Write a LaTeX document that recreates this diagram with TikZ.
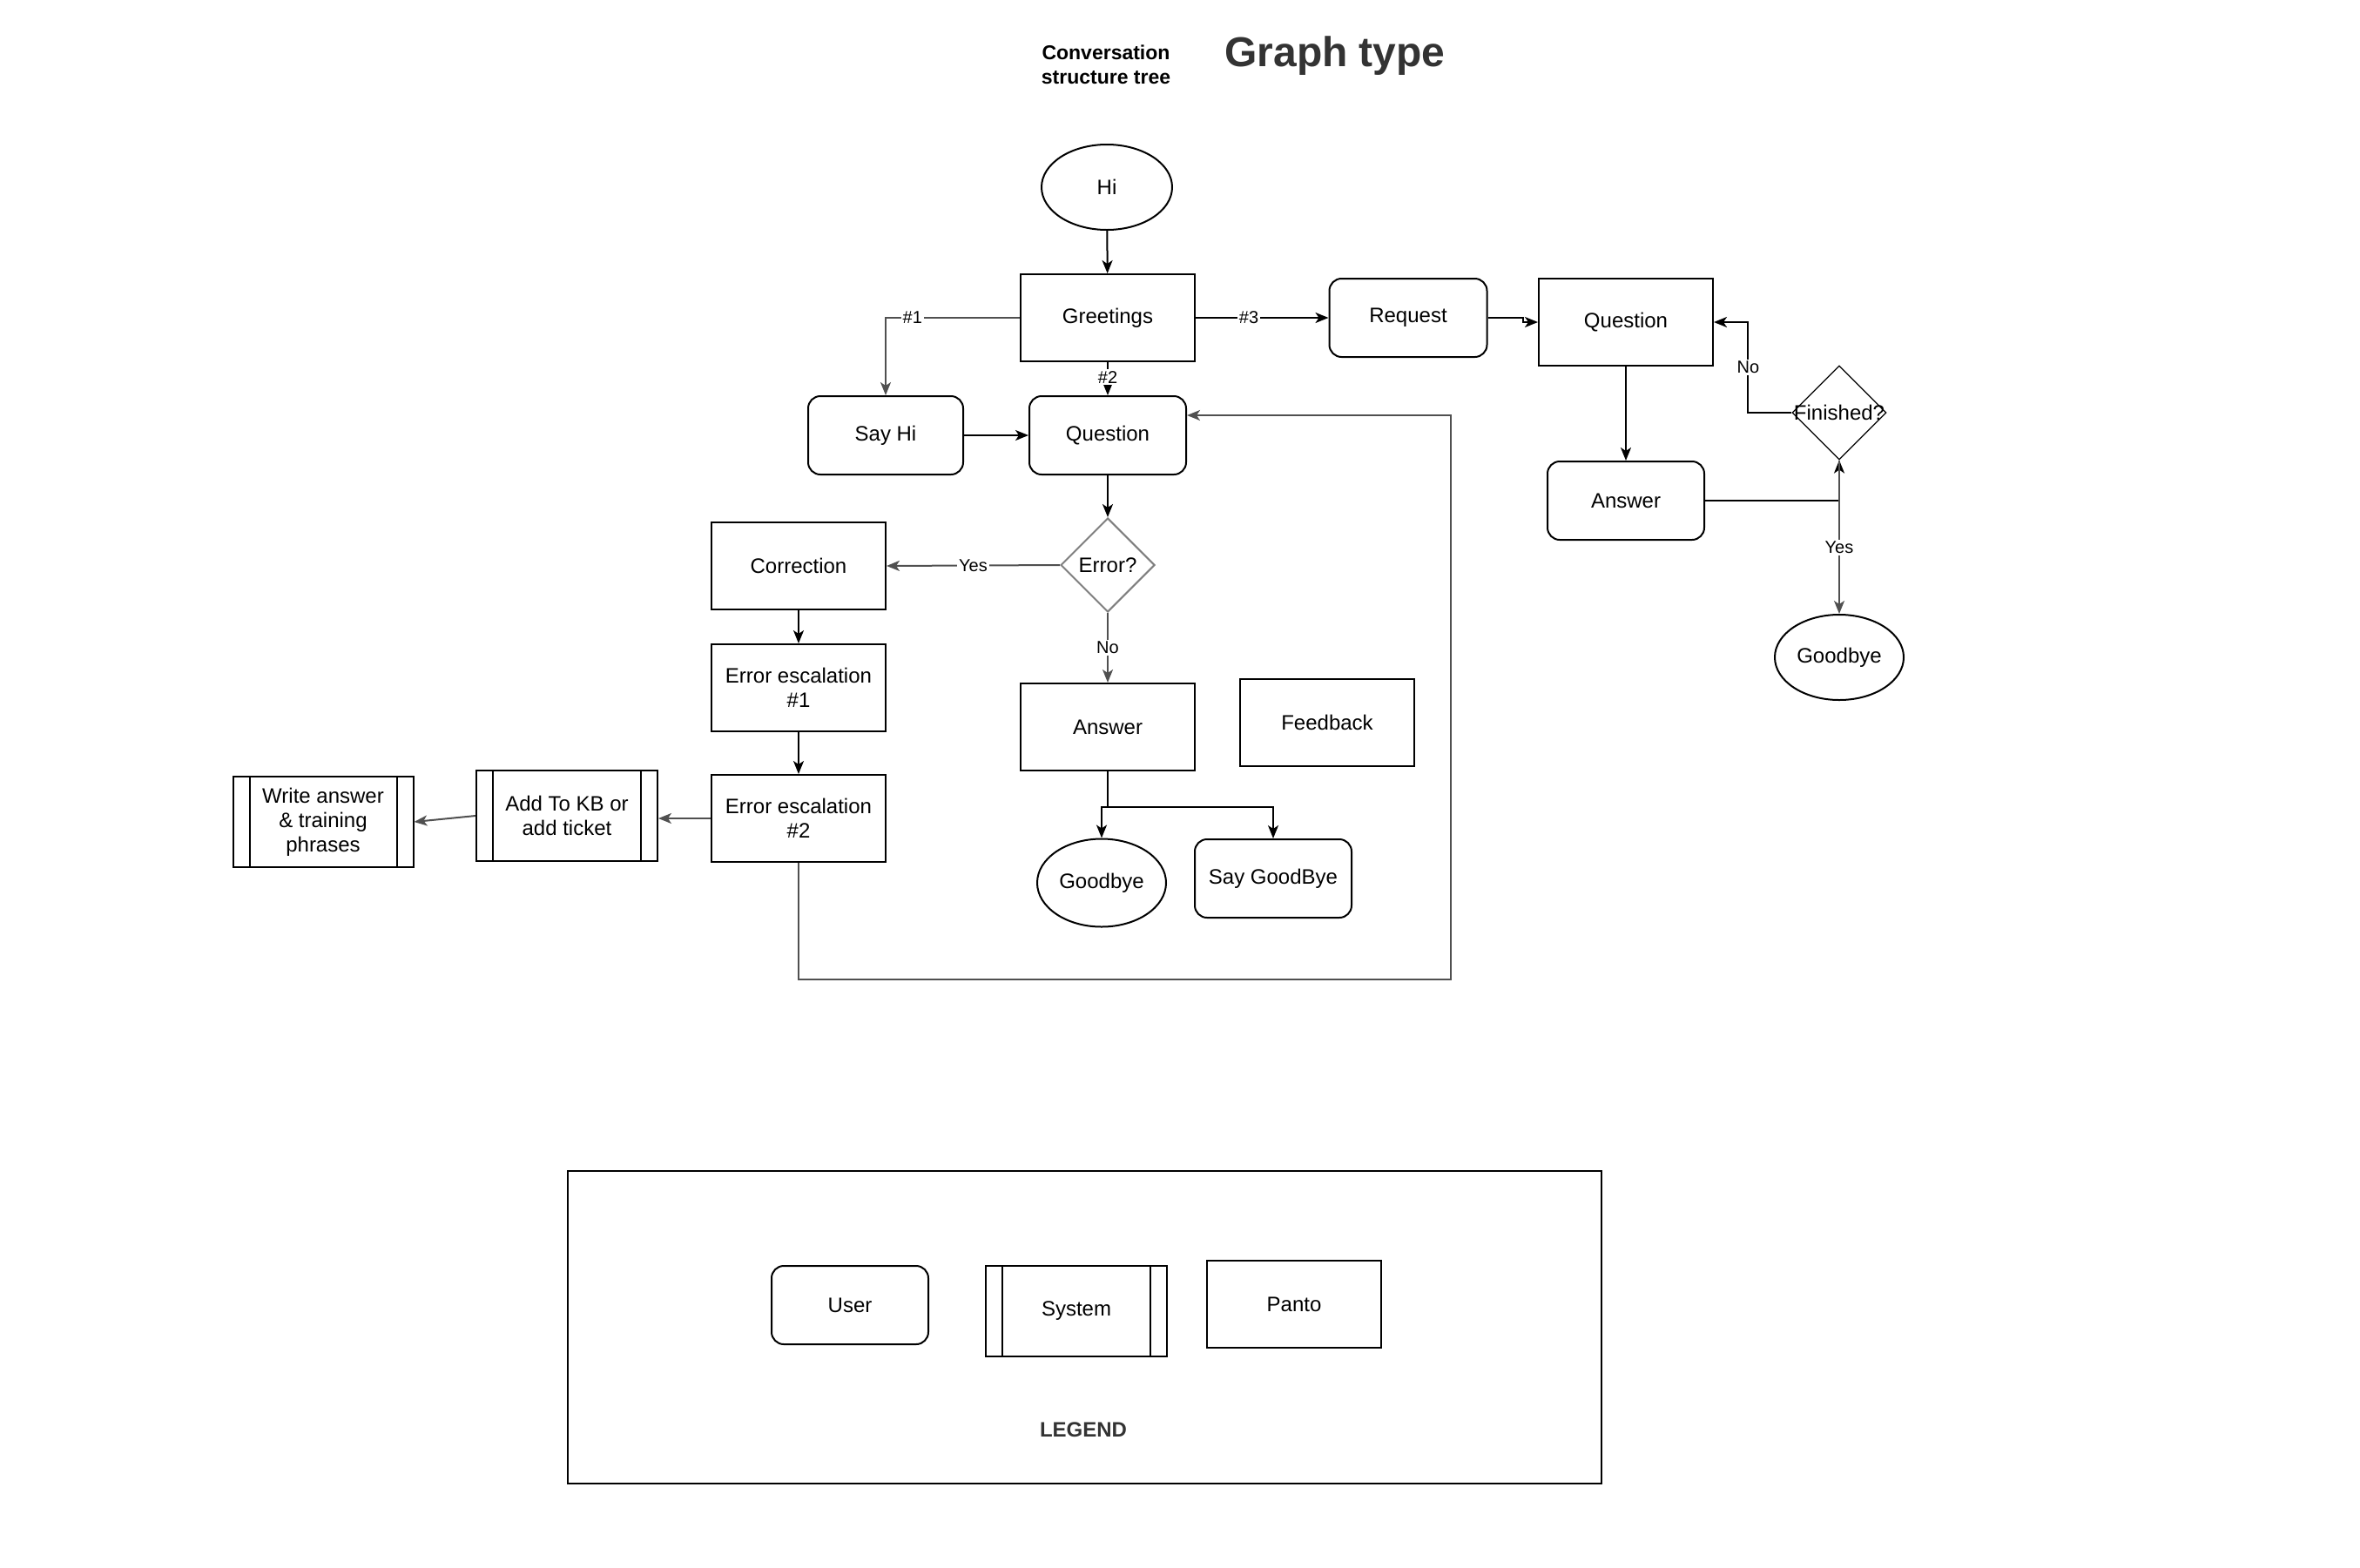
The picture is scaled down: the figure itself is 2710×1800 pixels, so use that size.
\documentclass[tikz,border=0pt]{standalone}
\usepackage{fontspec}
\setmainfont{Liberation Sans}
\usetikzlibrary{shapes.geometric,arrows.meta,calc}
\definecolor{lineg}{HTML}{505050}
\definecolor{diag}{HTML}{7F7F7F}
\tikzset{
  base/.style={draw, line width=1pt, align=center, inner sep=2pt, font=\fontsize{12}{14}\selectfont},
  pantobox/.style={base, rectangle, minimum width=100pt, minimum height=50pt},
  userbox/.style={base, rectangle, rounded corners=7pt, minimum width=90pt, minimum height=45pt},
  sysbox/.style={base, rectangle, minimum width=104pt, minimum height=52pt,
    path picture={
      \draw[line width=1pt] ([xshift=9.5pt]path picture bounding box.north west) -- ([xshift=9.5pt]path picture bounding box.south west);
      \draw[line width=1pt] ([xshift=-9.5pt]path picture bounding box.north east) -- ([xshift=-9.5pt]path picture bounding box.south east);
    }},
  oval/.style={base, ellipse, minimum width=74pt, minimum height=49pt, inner sep=0pt},
  dia/.style={draw, diamond, inner sep=0pt, minimum width=54pt, minimum height=54pt},
  dlabel/.style={font=\fontsize{12}{14}\selectfont},
  arr/.style={draw=black, line width=1pt, -{Stealth[length=7.5pt,width=6pt,inset=2pt]}},
  gline/.style={draw=lineg, line width=1pt, -{Stealth[length=7.5pt,width=6pt,inset=2pt]}},
  lbl/.style={fill=white, inner sep=1pt, font=\fontsize{10}{12}\selectfont},
}
\begin{document}
\begin{tikzpicture}[x=0.5pt, y=-0.5pt]
\useasboundingbox (0,0) rectangle (2710,1800);

% titles
\node[align=center, font=\bfseries\fontsize{11.5}{14}\selectfont] (t1) at (1270,74) {Conversation\\structure tree};
\node[font=\bfseries\fontsize{24}{28}\selectfont, text=black!80] (t2) at (1533,64) {Graph type};

% main tree
\node[oval, minimum width=75pt] (hi) at (1271,215) {Hi};
\node[pantobox] (greet) at (1272,365) {Greetings};
\node[userbox, minimum width=90.5pt] (req) at (1617,365) {Request};
\node[pantobox] (qr) at (1867,370) {Question};
\node[dia, line width=0.6pt] (fin) at (2112,474) {};
\node[dlabel] (finl) at (fin.center) {Finished?};
\node[userbox] (ar) at (1867,575) {Answer};
\node[oval] (gr) at (2112,755) {Goodbye};

\node[userbox, minimum width=89pt] (sayhi) at (1017,500) {Say Hi};
\node[userbox] (qm) at (1272,500) {Question};
\node[dia, draw=diag, line width=1pt] (err) at (1272,649) {};
\node[dlabel] (errl) at (err.center) {Error?};
\node[pantobox] (corr) at (917,650) {Correction};
\node[pantobox] (e1) at (917,790) {Error escalation\\\#1};
\node[pantobox] (e2) at (917,940) {Error escalation\\\#2};
\node[sysbox] (kb) at (651,937) {Add To KB or\\add ticket};
\node[sysbox, minimum width=103.5pt] (wr) at (371,944) {Write answer\\\& training\\phrases};
\node[pantobox] (am) at (1272,835) {Answer};
\node[pantobox] (fb) at (1524,830) {Feedback};
\node[oval, minimum height=50.5pt] (gm) at (1265,1014) {Goodbye};
\node[userbox] (sb) at (1462,1009) {Say GoodBye};

% connectors
\draw[arr] (hi) -- (greet);
\draw[gline] (greet.west) -| node[lbl, pos=0.4, text=black] {\#1} (sayhi.north);
\draw[arr] (greet.east) -- node[lbl, pos=0.4] {\#3} (req.west);
\draw[arr] (greet.south) -- node[lbl, pos=0.45] {\#2} (qm.north);
\draw[arr] (sayhi) -- (qm);
\draw[arr] (req.east) -- ++(40,0) |- (qr.west);
\draw[arr] (qr) -- (ar);
\draw[arr] (ar.east) -| (fin.south);
\draw[arr] (fin.west) -- ++(-50,0) |- node[lbl, pos=0.25] {No} (qr.east);
\draw[gline] (fin.south) -- node[lbl, pos=0.57, text=black] {Yes} (gr.north);

\draw[arr] (qm) -- (err);
\draw[gline] (err.west) -- node[lbl, pos=0.5, text=black] {Yes} (corr.east);
\draw[gline] (err.south) -- node[lbl, pos=0.5, text=black] {No} (am.north);
\draw[arr] (corr) -- (e1);
\draw[arr] (e1) -- (e2);
\draw[gline] (e2.west) -- (e2.west -| kb.east);
\draw[gline] (kb.west) -- (wr.east);
\draw[arr] (am.south) -- ++(0,41) -| (gm.north);
\draw[arr] (am.south) -- ++(0,41) -| (sb.north);
\coordinate (loopc) at (1666,1125);
\draw[gline] (e2.south) |- (loopc) |- ([yshift=11.5pt]qm.east);

% legend
\node[draw, line width=1pt, minimum width=593.5pt, minimum height=179.5pt] (legend) at (1245.5,1524.5) {};
\node[userbox] (user) at (976,1499) {User};
\node[sysbox] (sys) at (1236,1506) {System};
\node[pantobox] (panto) at (1486,1498) {Panto};
\node[font=\bfseries\fontsize{12}{14}\selectfont, text=black!80] (legt) at (1244,1642) {LEGEND};
\end{tikzpicture}
\end{document}
